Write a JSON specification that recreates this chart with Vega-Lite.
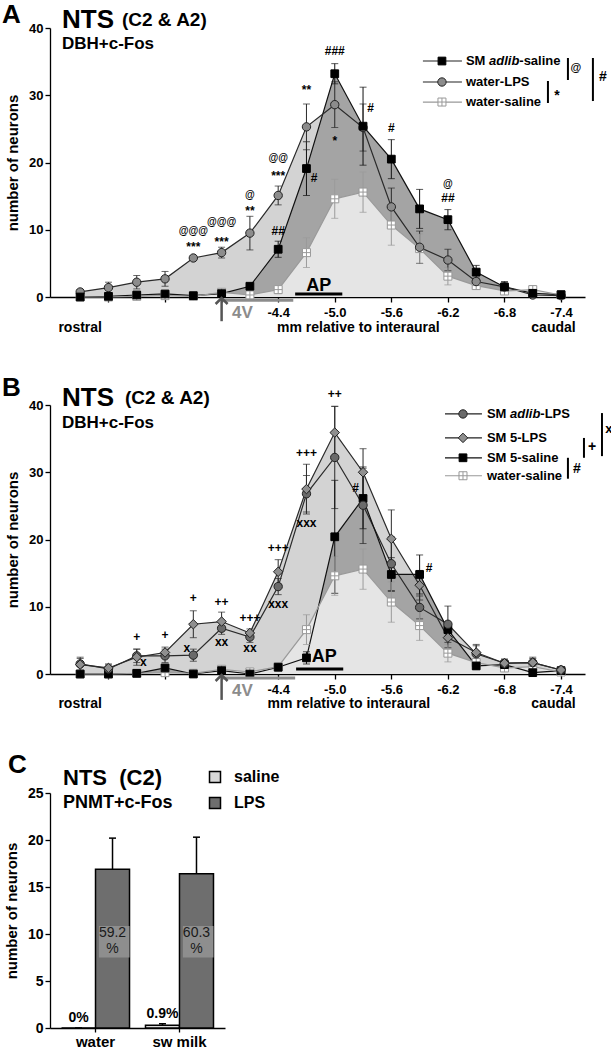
{
"$schema": "https://vega.github.io/schema/vega-lite/v6.json",
"background": "white",
"padding": {"left": 1, "top": 2, "right": 0, "bottom": 0},
"spacing": 40,
"resolve": {
  "scale": {"x": "independent", "y": "independent", "color": "independent", "fill": "independent"}
},
"config": {
  "font": "Liberation Sans",
  "view": {"stroke": null},
  "axis": {"labelFont": "Liberation Sans", "labelFontSize": 13, "labelFontWeight": "bold", "labelColor": "#000", "titleFont": "Liberation Sans", "titleFontSize": 15, "titleFontWeight": "bold", "titleColor": "#000", "domainColor": "#000", "tickColor": "#000", "domainWidth": 1.3, "tickWidth": 1.3, "grid": false},
  "legend": {"labelFont": "Liberation Sans", "labelFontWeight": "bold", "labelColor": "#000"},
  "text": {"font": "Liberation Sans", "fontWeight": "bold", "color": "#000"}
},
"datasets": {
  "one": [{"k": 1}],
  "A": [
    {"x":-2.3,"s":"SM adlib-saline","v":0,"lo":0,"hi":0.1},
    {"x":-2.6,"s":"SM adlib-saline","v":0.1,"lo":0,"hi":0.2},
    {"x":-2.9,"s":"SM adlib-saline","v":0.3,"lo":0.1,"hi":0.5},
    {"x":-3.2,"s":"SM adlib-saline","v":0.45,"lo":0.25,"hi":0.65},
    {"x":-3.5,"s":"SM adlib-saline","v":0.2,"lo":0.1,"hi":0.3},
    {"x":-3.8,"s":"SM adlib-saline","v":0.5,"lo":0.2,"hi":0.8},
    {"x":-4.1,"s":"SM adlib-saline","v":1.6,"lo":1.3,"hi":1.9},
    {"x":-4.4,"s":"SM adlib-saline","v":7.1,"lo":5.9,"hi":8.3},
    {"x":-4.7,"s":"SM adlib-saline","v":19.1,"lo":15.1,"hi":23.1},
    {"x":-5.0,"s":"SM adlib-saline","v":33.2,"lo":31.7,"hi":34.7},
    {"x":-5.3,"s":"SM adlib-saline","v":25.4,"lo":19.6,"hi":31.2},
    {"x":-5.6,"s":"SM adlib-saline","v":20.5,"lo":17.6,"hi":23.4},
    {"x":-5.9,"s":"SM adlib-saline","v":13.1,"lo":10.2,"hi":16.0},
    {"x":-6.2,"s":"SM adlib-saline","v":11.5,"lo":10.0,"hi":13.0},
    {"x":-6.5,"s":"SM adlib-saline","v":3.7,"lo":2.7,"hi":4.7},
    {"x":-6.8,"s":"SM adlib-saline","v":1.5,"lo":0.7,"hi":2.3},
    {"x":-7.1,"s":"SM adlib-saline","v":0.55,"lo":0.25,"hi":0.85},
    {"x":-7.4,"s":"SM adlib-saline","v":0.35,"lo":0.15,"hi":0.55},
    {"x":-2.3,"s":"water-LPS","v":0.75,"lo":0.45,"hi":1.05},
    {"x":-2.6,"s":"water-LPS","v":1.4,"lo":0.6,"hi":2.2},
    {"x":-2.9,"s":"water-LPS","v":2.2,"lo":1.2,"hi":3.2},
    {"x":-3.2,"s":"water-LPS","v":2.7,"lo":1.6,"hi":3.8},
    {"x":-3.5,"s":"water-LPS","v":5.8,"lo":5.5,"hi":6.1},
    {"x":-3.8,"s":"water-LPS","v":6.6,"lo":5.8,"hi":7.4},
    {"x":-4.1,"s":"water-LPS","v":9.5,"lo":7.0,"hi":12.0},
    {"x":-4.4,"s":"water-LPS","v":15.1,"lo":13.7,"hi":16.5},
    {"x":-4.7,"s":"water-LPS","v":25.3,"lo":21.9,"hi":28.7},
    {"x":-5.0,"s":"water-LPS","v":28.6,"lo":25.2,"hi":32.0},
    {"x":-5.3,"s":"water-LPS","v":25.2,"lo":21.7,"hi":28.7},
    {"x":-5.6,"s":"water-LPS","v":13.4,"lo":10.6,"hi":16.2},
    {"x":-5.9,"s":"water-LPS","v":7.4,"lo":5.0,"hi":9.8},
    {"x":-6.2,"s":"water-LPS","v":5.5,"lo":3.9,"hi":7.1},
    {"x":-6.5,"s":"water-LPS","v":2.3,"lo":1.8,"hi":2.8},
    {"x":-6.8,"s":"water-LPS","v":1.5,"lo":0.9,"hi":2.1},
    {"x":-7.1,"s":"water-LPS","v":0.3,"lo":0,"hi":0.6},
    {"x":-7.4,"s":"water-LPS","v":0.2,"lo":0,"hi":0.4},
    {"x":-2.3,"s":"water-saline","v":0,"lo":0,"hi":0.1},
    {"x":-2.6,"s":"water-saline","v":0,"lo":0,"hi":0.1},
    {"x":-2.9,"s":"water-saline","v":0.1,"lo":0,"hi":0.3},
    {"x":-3.2,"s":"water-saline","v":0.2,"lo":0,"hi":0.4},
    {"x":-3.5,"s":"water-saline","v":0.1,"lo":0,"hi":0.3},
    {"x":-3.8,"s":"water-saline","v":0.7,"lo":0.3,"hi":1.1},
    {"x":-4.1,"s":"water-saline","v":0.3,"lo":0,"hi":0.6},
    {"x":-4.4,"s":"water-saline","v":1.1,"lo":0.5,"hi":1.7},
    {"x":-4.7,"s":"water-saline","v":6.6,"lo":4.4,"hi":8.8},
    {"x":-5.0,"s":"water-saline","v":14.6,"lo":11.7,"hi":17.5},
    {"x":-5.3,"s":"water-saline","v":15.6,"lo":12.6,"hi":18.6},
    {"x":-5.6,"s":"water-saline","v":10.7,"lo":7.7,"hi":13.7},
    {"x":-5.9,"s":"water-saline","v":7.2,"lo":5.0,"hi":9.4},
    {"x":-6.2,"s":"water-saline","v":3.1,"lo":1.8,"hi":4.4},
    {"x":-6.5,"s":"water-saline","v":1.7,"lo":1.2,"hi":2.2},
    {"x":-6.8,"s":"water-saline","v":0.9,"lo":0.4,"hi":1.4},
    {"x":-7.1,"s":"water-saline","v":1.1,"lo":0.5,"hi":1.7},
    {"x":-7.4,"s":"water-saline","v":0.3,"lo":0.1,"hi":0.5}
  ],
  "B": [
    {"x":-2.3,"s":"SM adlib-LPS","v":1.5,"lo":0.5,"hi":2.5},
    {"x":-2.6,"s":"SM adlib-LPS","v":0.75,"lo":0.15,"hi":1.35},
    {"x":-2.9,"s":"SM adlib-LPS","v":2.7,"lo":1.7,"hi":3.7},
    {"x":-3.2,"s":"SM adlib-LPS","v":2.7,"lo":1.7,"hi":3.7},
    {"x":-3.5,"s":"SM adlib-LPS","v":2.8,"lo":1.9,"hi":3.7},
    {"x":-3.8,"s":"SM adlib-LPS","v":6.8,"lo":5.9,"hi":7.7},
    {"x":-4.1,"s":"SM adlib-LPS","v":5.5,"lo":4.7,"hi":6.3},
    {"x":-4.4,"s":"SM adlib-LPS","v":13.0,"lo":11.8,"hi":14.2},
    {"x":-4.7,"s":"SM adlib-LPS","v":26.8,"lo":24.1,"hi":29.5},
    {"x":-5.0,"s":"SM adlib-LPS","v":32.2,"lo":24.6,"hi":39.8},
    {"x":-5.3,"s":"SM adlib-LPS","v":25.1,"lo":19.4,"hi":30.8},
    {"x":-5.6,"s":"SM adlib-LPS","v":16.4,"lo":12.4,"hi":20.4},
    {"x":-5.9,"s":"SM adlib-LPS","v":9.9,"lo":8.2,"hi":11.6},
    {"x":-6.2,"s":"SM adlib-LPS","v":7.4,"lo":4.7,"hi":10.1},
    {"x":-6.5,"s":"SM adlib-LPS","v":3.0,"lo":1.8,"hi":4.2},
    {"x":-6.8,"s":"SM adlib-LPS","v":1.6,"lo":1.0,"hi":2.2},
    {"x":-7.1,"s":"SM adlib-LPS","v":1.7,"lo":1.1,"hi":2.3},
    {"x":-7.4,"s":"SM adlib-LPS","v":0.6,"lo":0.4,"hi":0.8},
    {"x":-2.3,"s":"SM 5-LPS","v":1.4,"lo":0.5,"hi":2.3},
    {"x":-2.6,"s":"SM 5-LPS","v":0.9,"lo":0.3,"hi":1.5},
    {"x":-2.9,"s":"SM 5-LPS","v":2.5,"lo":1.3,"hi":3.7},
    {"x":-3.2,"s":"SM 5-LPS","v":3.2,"lo":2.4,"hi":4.0},
    {"x":-3.5,"s":"SM 5-LPS","v":7.4,"lo":5.4,"hi":9.4},
    {"x":-3.8,"s":"SM 5-LPS","v":7.8,"lo":6.4,"hi":9.2},
    {"x":-4.1,"s":"SM 5-LPS","v":6.1,"lo":5.5,"hi":6.7},
    {"x":-4.4,"s":"SM 5-LPS","v":15.2,"lo":13.4,"hi":17.0},
    {"x":-4.7,"s":"SM 5-LPS","v":27.5,"lo":23.8,"hi":31.2},
    {"x":-5.0,"s":"SM 5-LPS","v":35.9,"lo":32.0,"hi":39.8},
    {"x":-5.3,"s":"SM 5-LPS","v":30.0,"lo":26.5,"hi":33.5},
    {"x":-5.6,"s":"SM 5-LPS","v":20.1,"lo":15.8,"hi":24.4},
    {"x":-5.9,"s":"SM 5-LPS","v":13.2,"lo":11.0,"hi":15.4},
    {"x":-6.2,"s":"SM 5-LPS","v":5.4,"lo":3.9,"hi":6.9},
    {"x":-6.5,"s":"SM 5-LPS","v":3.2,"lo":2.0,"hi":4.4},
    {"x":-6.8,"s":"SM 5-LPS","v":1.6,"lo":1.0,"hi":2.2},
    {"x":-7.1,"s":"SM 5-LPS","v":1.7,"lo":0.9,"hi":2.5},
    {"x":-7.4,"s":"SM 5-LPS","v":0.6,"lo":0.4,"hi":0.8},
    {"x":-2.3,"s":"SM 5-saline","v":0,"lo":0,"hi":0.1},
    {"x":-2.6,"s":"SM 5-saline","v":0,"lo":0,"hi":0.1},
    {"x":-2.9,"s":"SM 5-saline","v":0.1,"lo":0,"hi":0.3},
    {"x":-3.2,"s":"SM 5-saline","v":0.9,"lo":0.6,"hi":1.2},
    {"x":-3.5,"s":"SM 5-saline","v":0,"lo":0,"hi":0.1},
    {"x":-3.8,"s":"SM 5-saline","v":0.5,"lo":0.2,"hi":0.8},
    {"x":-4.1,"s":"SM 5-saline","v":0,"lo":0,"hi":0.2},
    {"x":-4.4,"s":"SM 5-saline","v":1.0,"lo":0.6,"hi":1.4},
    {"x":-4.7,"s":"SM 5-saline","v":2.4,"lo":1.5,"hi":3.3},
    {"x":-5.0,"s":"SM 5-saline","v":20.4,"lo":12.0,"hi":28.8},
    {"x":-5.3,"s":"SM 5-saline","v":26.1,"lo":21.6,"hi":30.6},
    {"x":-5.6,"s":"SM 5-saline","v":14.8,"lo":12.3,"hi":17.3},
    {"x":-5.9,"s":"SM 5-saline","v":14.8,"lo":11.9,"hi":17.7},
    {"x":-6.2,"s":"SM 5-saline","v":6.6,"lo":5.6,"hi":7.6},
    {"x":-6.5,"s":"SM 5-saline","v":1.2,"lo":0.7,"hi":1.7},
    {"x":-6.8,"s":"SM 5-saline","v":1.4,"lo":0.9,"hi":1.9},
    {"x":-7.1,"s":"SM 5-saline","v":0.2,"lo":0,"hi":0.4},
    {"x":-7.4,"s":"SM 5-saline","v":0.5,"lo":0.3,"hi":0.7},
    {"x":-2.3,"s":"water-saline","v":0,"lo":0,"hi":0.1},
    {"x":-2.6,"s":"water-saline","v":0,"lo":0,"hi":0.1},
    {"x":-2.9,"s":"water-saline","v":0.1,"lo":0,"hi":0.3},
    {"x":-3.2,"s":"water-saline","v":0.2,"lo":0,"hi":0.4},
    {"x":-3.5,"s":"water-saline","v":0.1,"lo":0,"hi":0.3},
    {"x":-3.8,"s":"water-saline","v":0.7,"lo":0.3,"hi":1.1},
    {"x":-4.1,"s":"water-saline","v":0.3,"lo":0,"hi":0.6},
    {"x":-4.4,"s":"water-saline","v":1.1,"lo":0.5,"hi":1.7},
    {"x":-4.7,"s":"water-saline","v":6.6,"lo":4.4,"hi":8.8},
    {"x":-5.0,"s":"water-saline","v":14.6,"lo":11.7,"hi":17.5},
    {"x":-5.3,"s":"water-saline","v":15.6,"lo":12.6,"hi":18.6},
    {"x":-5.6,"s":"water-saline","v":10.7,"lo":7.7,"hi":13.7},
    {"x":-5.9,"s":"water-saline","v":7.2,"lo":5.0,"hi":9.4},
    {"x":-6.2,"s":"water-saline","v":3.1,"lo":1.8,"hi":4.4},
    {"x":-6.5,"s":"water-saline","v":1.7,"lo":1.2,"hi":2.2},
    {"x":-6.8,"s":"water-saline","v":0.9,"lo":0.4,"hi":1.4},
    {"x":-7.1,"s":"water-saline","v":1.1,"lo":0.5,"hi":1.7},
    {"x":-7.4,"s":"water-saline","v":0.3,"lo":0.1,"hi":0.5}
  ],
  "annA": [
    {"x":-3.5,"y":9.8,"t":"@@@"},{"x":-3.5,"y":7.5,"t":"***"},
    {"x":-3.8,"y":11.1,"t":"@@@"},{"x":-3.8,"y":8.2,"t":"***"},
    {"x":-4.1,"y":15.2,"t":"@"},{"x":-4.1,"y":12.8,"t":"**"},
    {"x":-4.4,"y":20.7,"t":"@@"},{"x":-4.4,"y":18.0,"t":"***"},{"x":-4.4,"y":9.8,"t":"##"},
    {"x":-4.7,"y":30.8,"t":"**"},{"x":-4.78,"y":17.7,"t":"#"},
    {"x":-5.0,"y":36.6,"t":"###"},{"x":-5.0,"y":23.2,"t":"*"},
    {"x":-5.38,"y":28.1,"t":"#"},{"x":-5.6,"y":25.1,"t":"#"},
    {"x":-6.2,"y":16.8,"t":"@"},{"x":-6.2,"y":14.7,"t":"##"}
  ],
  "annB": [
    {"x":-2.9,"y":5.5,"t":"+"},{"x":-2.97,"y":1.8,"t":"x"},
    {"x":-3.2,"y":5.8,"t":"+"},
    {"x":-3.5,"y":11.3,"t":"+"},{"x":-3.43,"y":3.9,"t":"x"},
    {"x":-3.8,"y":10.7,"t":"++"},{"x":-3.8,"y":4.7,"t":"xx"},
    {"x":-4.1,"y":8.3,"t":"+++"},{"x":-4.1,"y":3.9,"t":"xx"},
    {"x":-4.4,"y":18.7,"t":"+++"},{"x":-4.4,"y":10.4,"t":"xxx"},
    {"x":-4.7,"y":32.9,"t":"+++"},{"x":-4.7,"y":22.5,"t":"xxx"},
    {"x":-5.0,"y":41.6,"t":"++"},
    {"x":-5.22,"y":27.7,"t":"#"},{"x":-6.0,"y":15.7,"t":"#"}
  ],
  "C": [
    {"g":"water","t":"saline","v":0,"hi":0,"pct":"","lab":"0%"},
    {"g":"water","t":"LPS","v":16.9,"hi":20.2,"pct":"59.2","lab":""},
    {"g":"sw milk","t":"saline","v":0.3,"hi":0.45,"pct":"","lab":"0.9%"},
    {"g":"sw milk","t":"LPS","v":16.4,"hi":20.3,"pct":"60.3","lab":""}
  ]
},
"vconcat": [
{
  "width": 535, "height": 269,
  "data": {"name": "A"},
  "layer": [
    {"transform": [{"filter": "datum.s == 'water-LPS'"}], "mark": {"type": "area", "color": "#d3d3d3", "opacity": 1},
     "encoding": {
       "x": {"field": "x", "type": "quantitative", "scale": {"domain": [-7.654, -1.98], "reverse": true, "nice": false, "zero": false},
             "axis": {"title": null, "values": [-2.3,-2.6,-2.9,-3.2,-3.5,-3.8,-4.1,-4.4,-4.7,-5.0,-5.3,-5.6,-5.9,-6.2,-6.5,-6.8,-7.1,-7.4], "labelExpr": "indexof(['2.3','2.9','3.5','4.4','5.0','5.6','6.2','6.8','7.4'], format(-datum.value, '.1f')) >= 0 ? '-' + format(-datum.value, '.1f') : ''", "tickSize": 5, "labelOverlap": false, "labelFlush": false, "labelPadding": 4}},
       "y": {"field": "v", "type": "quantitative", "stack": null, "title": "number of neurons", "scale": {"domain": [0, 40], "nice": false, "zero": false},
             "axis": {"values": [0,10,20,30,40], "tickSize": 5, "titlePadding": 8, "labelPadding": 2}}}},
    {"transform": [{"filter": "datum.s == 'SM adlib-saline'"}], "mark": {"type": "area", "color": "#a4a4a4", "opacity": 1},
     "encoding": {"x": {"field": "x", "type": "quantitative", "scale": {"domain": [-7.654, -1.98], "reverse": true, "nice": false, "zero": false}},
                  "y": {"field": "v", "type": "quantitative", "stack": null, "title": "number of neurons", "scale": {"domain": [0, 40], "nice": false, "zero": false}}}},
    {"transform": [{"filter": "datum.s == 'water-saline'"}], "mark": {"type": "area", "color": "#e5e5e5", "opacity": 1},
     "encoding": {"x": {"field": "x", "type": "quantitative", "scale": {"domain": [-7.654, -1.98], "reverse": true, "nice": false, "zero": false}},
                  "y": {"field": "v", "type": "quantitative", "stack": null, "title": "number of neurons", "scale": {"domain": [0, 40], "nice": false, "zero": false}}}},
    {"mark": {"type": "line", "strokeWidth": 1.2},
     "encoding": {"x": {"field": "x", "type": "quantitative", "scale": {"domain": [-7.654, -1.98], "reverse": true, "nice": false, "zero": false}},
                  "y": {"field": "v", "type": "quantitative", "stack": null, "title": "number of neurons", "scale": {"domain": [0, 40], "nice": false, "zero": false}},
                  "color": {"field": "s", "type": "nominal", "scale": {"domain": ["SM adlib-saline","water-LPS","water-saline"], "range": ["#111111","#2a2a2a","#9a9a9a"]}, "legend": null}}},
    {"mark": {"type": "errorbar", "ticks": {"size": 7}, "thickness": 1},
     "encoding": {"x": {"field": "x", "type": "quantitative", "scale": {"domain": [-7.654, -1.98], "reverse": true, "nice": false, "zero": false}},
                  "y": {"field": "lo", "type": "quantitative", "title": "number of neurons", "scale": {"domain": [0, 40], "nice": false, "zero": false}},
                  "y2": {"field": "hi"},
                  "color": {"field": "s", "type": "nominal", "scale": {"domain": ["SM adlib-saline","water-LPS","water-saline"], "range": ["#111111","#2a2a2a","#9a9a9a"]}, "legend": null}}},
    {"transform": [{"filter": "datum.s == 'water-saline'"}], "mark": {"type": "point", "shape": "M-1,-1H1V1H-1ZM0,-1V1M-1,0H1", "size": 64, "filled": true, "fill": "#ffffff", "stroke": "#999999", "strokeWidth": 1, "opacity": 1},
     "encoding": {"x": {"field": "x", "type": "quantitative", "scale": {"domain": [-7.654, -1.98], "reverse": true, "nice": false, "zero": false}},
                  "y": {"field": "v", "type": "quantitative", "title": "number of neurons", "scale": {"domain": [0, 40], "nice": false, "zero": false}}}},
    {"transform": [{"filter": "datum.s == 'water-LPS'"}], "mark": {"type": "point", "shape": "circle", "size": 70, "filled": true, "fill": "#8c8c8c", "stroke": "#222222", "strokeWidth": 1, "opacity": 1},
     "encoding": {"x": {"field": "x", "type": "quantitative", "scale": {"domain": [-7.654, -1.98], "reverse": true, "nice": false, "zero": false}},
                  "y": {"field": "v", "type": "quantitative", "title": "number of neurons", "scale": {"domain": [0, 40], "nice": false, "zero": false}}}},
    {"transform": [{"filter": "datum.s == 'SM adlib-saline'"}], "mark": {"type": "point", "shape": "square", "size": 60, "filled": true, "fill": "#000000", "stroke": "#000000", "strokeWidth": 1, "opacity": 1},
     "encoding": {"x": {"field": "x", "type": "quantitative", "scale": {"domain": [-7.654, -1.98], "reverse": true, "nice": false, "zero": false}},
                  "y": {"field": "v", "type": "quantitative", "title": "number of neurons", "scale": {"domain": [0, 40], "nice": false, "zero": false}}}},
    {"data": {"name": "annA"}, "transform": [{"filter": "indexof(datum.t, '@') < 0"}], "mark": {"type": "text", "fontSize": 12, "baseline": "middle", "align": "center"},
     "encoding": {"x": {"field": "x", "type": "quantitative", "scale": {"domain": [-7.654, -1.98], "reverse": true, "nice": false, "zero": false}},
                  "y": {"field": "y", "type": "quantitative", "title": "number of neurons", "scale": {"domain": [0, 40], "nice": false, "zero": false}},
                  "text": {"field": "t"}}},
    {"data": {"name": "annA"}, "transform": [{"filter": "indexof(datum.t, '@') >= 0"}], "mark": {"type": "text", "fontSize": 10, "baseline": "middle", "align": "center"},
     "encoding": {"x": {"field": "x", "type": "quantitative", "scale": {"domain": [-7.654, -1.98], "reverse": true, "nice": false, "zero": false}},
                  "y": {"field": "y", "type": "quantitative", "title": "number of neurons", "scale": {"domain": [0, 40], "nice": false, "zero": false}},
                  "text": {"field": "t"}}},
    {"data": {"name": "one"}, "mark": {"type": "rule", "color": "#222222", "strokeWidth": 1.2}, "encoding": {"x": {"datum": -5.935}, "x2": {"datum": -6.349}, "y": {"datum": 35.09}}},
    {"data": {"name": "one"}, "mark": {"type": "rule", "color": "#222222", "strokeWidth": 1.2}, "encoding": {"x": {"datum": -5.935}, "x2": {"datum": -6.349}, "y": {"datum": 31.97}}},
    {"data": {"name": "one"}, "mark": {"type": "rule", "color": "#999999", "strokeWidth": 1.2}, "encoding": {"x": {"datum": -5.935}, "x2": {"datum": -6.349}, "y": {"datum": 28.99}}},
    {"data": {"name": "one"}, "mark": {"type": "point", "shape": "square", "size": 60, "filled": true, "fill": "#000000", "stroke": "#000000", "strokeWidth": 1, "opacity": 1}, "encoding": {"x": {"datum": -6.137}, "y": {"datum": 35.09}}},
    {"data": {"name": "one"}, "mark": {"type": "point", "shape": "circle", "size": 70, "filled": true, "fill": "#8c8c8c", "stroke": "#222222", "strokeWidth": 1, "opacity": 1}, "encoding": {"x": {"datum": -6.137}, "y": {"datum": 31.97}}},
    {"data": {"name": "one"}, "mark": {"type": "point", "shape": "M-1,-1H1V1H-1ZM0,-1V1M-1,0H1", "size": 64, "filled": true, "fill": "#ffffff", "stroke": "#999999", "strokeWidth": 1, "opacity": 1}, "encoding": {"x": {"datum": -6.137}, "y": {"datum": 28.99}}},
    {"data": {"name": "one"}, "mark": {"type": "text", "fontSize": 13, "align": "left", "baseline": "middle", "text": "SM"}, "encoding": {"x": {"datum": -6.391}, "y": {"datum": 35.09}}},
    {"data": {"name": "one"}, "mark": {"type": "text", "fontSize": 13, "align": "left", "baseline": "middle", "fontStyle": "italic", "dx": 23.1, "text": "adlib"}, "encoding": {"x": {"datum": -6.391}, "y": {"datum": 35.09}}},
    {"data": {"name": "one"}, "mark": {"type": "text", "fontSize": 13, "align": "left", "baseline": "middle", "dx": 53.4, "text": "-saline"}, "encoding": {"x": {"datum": -6.391}, "y": {"datum": 35.09}}},
    {"data": {"name": "one"}, "mark": {"type": "text", "fontSize": 13, "align": "left", "baseline": "middle", "text": "water-LPS"}, "encoding": {"x": {"datum": -6.391}, "y": {"datum": 31.97}}},
    {"data": {"name": "one"}, "mark": {"type": "text", "fontSize": 13, "align": "left", "baseline": "middle", "text": "water-saline"}, "encoding": {"x": {"datum": -6.391}, "y": {"datum": 28.99}}},
    {"data": {"name": "one"}, "mark": {"type": "text", "fontSize": 26, "align": "left", "baseline": "alphabetic", "text": "A"}, "encoding": {"x": {"datum": -1.47}, "y": {"datum": 40.74}}},
    {"data": {"name": "one"}, "mark": {"type": "text", "fontSize": 26, "align": "left", "baseline": "alphabetic", "text": "NTS"}, "encoding": {"x": {"datum": -2.107}, "y": {"datum": 40.0}}},
    {"data": {"name": "one"}, "mark": {"type": "text", "fontSize": 19, "align": "left", "baseline": "alphabetic", "text": "(C2 & A2)"}, "encoding": {"x": {"datum": -2.743}, "y": {"datum": 40.3}}},
    {"data": {"name": "one"}, "mark": {"type": "text", "fontSize": 17, "align": "left", "baseline": "alphabetic", "text": "DBH+c-Fos"}, "encoding": {"x": {"datum": -2.107}, "y": {"datum": 36.9}}},
    {"data": {"name": "one"}, "mark": {"type": "text", "fontSize": 14, "align": "center", "baseline": "middle", "text": "rostral"}, "encoding": {"x": {"datum": -2.3}, "y": {"datum": -4.6}}},
    {"data": {"name": "one"}, "mark": {"type": "text", "fontSize": 14, "align": "center", "baseline": "middle", "text": "mm relative to interaural"}, "encoding": {"x": {"datum": -5.25}, "y": {"datum": -4.6}}},
    {"data": {"name": "one"}, "mark": {"type": "text", "fontSize": 14, "align": "center", "baseline": "middle", "text": "caudal"}, "encoding": {"x": {"datum": -7.32}, "y": {"datum": -4.6}}},
    {"data": {"name": "one"}, "mark": {"type": "text", "fontSize": 17, "align": "center", "baseline": "middle", "color": "#8c8c8c", "text": "4V"}, "encoding": {"x": {"datum": -4.02}, "y": {"datum": -2.4}}},
    {"data": {"name": "one"}, "mark": {"type": "rule", "color": "#8c8c8c", "strokeWidth": 3}, "encoding": {"x": {"datum": -3.8}, "x2": {"datum": -4.56}, "y": {"datum": -0.5}}},
    {"data": {"name": "one"}, "mark": {"type": "rule", "color": "#555555", "strokeWidth": 2.5}, "encoding": {"x": {"datum": -3.8}, "y": {"datum": -3.6}, "y2": {"datum": -0.2}}},
    {"data": {"name": "one"}, "mark": {"type": "point", "shape": "M-1,1L0,0L1,1", "size": 144, "filled": false, "stroke": "#555555", "strokeWidth": 2.5, "opacity": 1}, "encoding": {"x": {"datum": -3.8}, "y": {"datum": -0.15}}},
    {"data": {"name": "one"}, "mark": {"type": "rule", "color": "#000000", "strokeWidth": 3}, "encoding": {"x": {"datum": -4.58}, "x2": {"datum": -5.08}, "y": {"datum": 0.45}}},
    {"data": {"name": "one"}, "mark": {"type": "text", "fontSize": 18, "align": "center", "baseline": "alphabetic", "text": "AP"}, "encoding": {"x": {"datum": -4.83}, "y": {"datum": 0.9}}},
    {"data": {"name": "one"}, "mark": {"type": "rule", "color": "#000000", "strokeWidth": 2}, "encoding": {"x": {"datum": -7.473}, "y": {"datum": 35.54}, "y2": {"datum": 32.27}}},
    {"data": {"name": "one"}, "mark": {"type": "text", "fontSize": 11, "align": "center", "baseline": "middle", "text": "@"}, "encoding": {"x": {"datum": -7.558}, "y": {"datum": 34.05}}},
    {"data": {"name": "one"}, "mark": {"type": "rule", "color": "#000000", "strokeWidth": 2}, "encoding": {"x": {"datum": -7.261}, "y": {"datum": 32.12}, "y2": {"datum": 28.85}}},
    {"data": {"name": "one"}, "mark": {"type": "text", "fontSize": 14, "align": "center", "baseline": "middle", "text": "*"}, "encoding": {"x": {"datum": -7.356}, "y": {"datum": 29.9}}},
    {"data": {"name": "one"}, "mark": {"type": "rule", "color": "#000000", "strokeWidth": 2}, "encoding": {"x": {"datum": -7.738}, "y": {"datum": 35.54}, "y2": {"datum": 29.14}}},
    {"data": {"name": "one"}, "mark": {"type": "text", "fontSize": 14, "align": "center", "baseline": "middle", "text": "#"}, "encoding": {"x": {"datum": -7.844}, "y": {"datum": 32.71}}}
  ]
},
{
  "width": 535, "height": 269,
  "data": {"name": "B"},
  "layer": [
    {"transform": [{"filter": "datum.s == 'SM 5-LPS' || datum.s == 'SM adlib-LPS'"}], "mark": {"type": "area", "color": "#d3d3d3", "opacity": 1},
     "encoding": {
       "x": {"field": "x", "type": "quantitative", "scale": {"domain": [-7.654, -1.98], "reverse": true, "nice": false, "zero": false},
             "axis": {"title": null, "values": [-2.3,-2.6,-2.9,-3.2,-3.5,-3.8,-4.1,-4.4,-4.7,-5.0,-5.3,-5.6,-5.9,-6.2,-6.5,-6.8,-7.1,-7.4], "labelExpr": "indexof(['2.3','2.9','3.5','4.4','5.0','5.6','6.2','6.8','7.4'], format(-datum.value, '.1f')) >= 0 ? '-' + format(-datum.value, '.1f') : ''", "tickSize": 5, "labelOverlap": false, "labelFlush": false, "labelPadding": 4}},
       "y": {"field": "v", "type": "quantitative", "stack": null, "title": "number of neurons", "scale": {"domain": [0, 40], "nice": false, "zero": false},
             "axis": {"values": [0,10,20,30,40], "tickSize": 5, "titlePadding": 8, "labelPadding": 2}},
       "detail": {"field": "s"}}},
    {"transform": [{"filter": "datum.s == 'SM 5-saline'"}], "mark": {"type": "area", "color": "#a4a4a4", "opacity": 1},
     "encoding": {"x": {"field": "x", "type": "quantitative", "scale": {"domain": [-7.654, -1.98], "reverse": true, "nice": false, "zero": false}},
                  "y": {"field": "v", "type": "quantitative", "stack": null, "title": "number of neurons", "scale": {"domain": [0, 40], "nice": false, "zero": false}}}},
    {"transform": [{"filter": "datum.s == 'water-saline'"}], "mark": {"type": "area", "color": "#e5e5e5", "opacity": 1},
     "encoding": {"x": {"field": "x", "type": "quantitative", "scale": {"domain": [-7.654, -1.98], "reverse": true, "nice": false, "zero": false}},
                  "y": {"field": "v", "type": "quantitative", "stack": null, "title": "number of neurons", "scale": {"domain": [0, 40], "nice": false, "zero": false}}}},
    {"mark": {"type": "line", "strokeWidth": 1.2},
     "encoding": {"x": {"field": "x", "type": "quantitative", "scale": {"domain": [-7.654, -1.98], "reverse": true, "nice": false, "zero": false}},
                  "y": {"field": "v", "type": "quantitative", "stack": null, "title": "number of neurons", "scale": {"domain": [0, 40], "nice": false, "zero": false}},
                  "color": {"field": "s", "type": "nominal", "scale": {"domain": ["SM adlib-LPS","SM 5-LPS","SM 5-saline","water-saline"], "range": ["#2a2a2a","#2a2a2a","#111111","#9a9a9a"]}, "legend": null}}},
    {"mark": {"type": "errorbar", "ticks": {"size": 7}, "thickness": 1},
     "encoding": {"x": {"field": "x", "type": "quantitative", "scale": {"domain": [-7.654, -1.98], "reverse": true, "nice": false, "zero": false}},
                  "y": {"field": "lo", "type": "quantitative", "title": "number of neurons", "scale": {"domain": [0, 40], "nice": false, "zero": false}},
                  "y2": {"field": "hi"},
                  "color": {"field": "s", "type": "nominal", "scale": {"domain": ["SM adlib-LPS","SM 5-LPS","SM 5-saline","water-saline"], "range": ["#2a2a2a","#2a2a2a","#111111","#9a9a9a"]}, "legend": null}}},
    {"transform": [{"filter": "datum.s == 'water-saline'"}], "mark": {"type": "point", "shape": "M-1,-1H1V1H-1ZM0,-1V1M-1,0H1", "size": 64, "filled": true, "fill": "#ffffff", "stroke": "#999999", "strokeWidth": 1, "opacity": 1},
     "encoding": {"x": {"field": "x", "type": "quantitative", "scale": {"domain": [-7.654, -1.98], "reverse": true, "nice": false, "zero": false}},
                  "y": {"field": "v", "type": "quantitative", "title": "number of neurons", "scale": {"domain": [0, 40], "nice": false, "zero": false}}}},
    {"transform": [{"filter": "datum.s == 'SM 5-saline'"}], "mark": {"type": "point", "shape": "square", "size": 60, "filled": true, "fill": "#000000", "stroke": "#000000", "strokeWidth": 1, "opacity": 1},
     "encoding": {"x": {"field": "x", "type": "quantitative", "scale": {"domain": [-7.654, -1.98], "reverse": true, "nice": false, "zero": false}},
                  "y": {"field": "v", "type": "quantitative", "title": "number of neurons", "scale": {"domain": [0, 40], "nice": false, "zero": false}}}},
    {"transform": [{"filter": "datum.s == 'SM adlib-LPS'"}], "mark": {"type": "point", "shape": "circle", "size": 70, "filled": true, "fill": "#6a6a6a", "stroke": "#222222", "strokeWidth": 1, "opacity": 1},
     "encoding": {"x": {"field": "x", "type": "quantitative", "scale": {"domain": [-7.654, -1.98], "reverse": true, "nice": false, "zero": false}},
                  "y": {"field": "v", "type": "quantitative", "title": "number of neurons", "scale": {"domain": [0, 40], "nice": false, "zero": false}}}},
    {"transform": [{"filter": "datum.s == 'SM 5-LPS'"}], "mark": {"type": "point", "shape": "diamond", "size": 90, "filled": true, "fill": "#8f8f8f", "stroke": "#222222", "strokeWidth": 1, "opacity": 1},
     "encoding": {"x": {"field": "x", "type": "quantitative", "scale": {"domain": [-7.654, -1.98], "reverse": true, "nice": false, "zero": false}},
                  "y": {"field": "v", "type": "quantitative", "title": "number of neurons", "scale": {"domain": [0, 40], "nice": false, "zero": false}}}},
    {"data": {"name": "annB"}, "mark": {"type": "text", "fontSize": 12, "baseline": "middle", "align": "center"},
     "encoding": {"x": {"field": "x", "type": "quantitative", "scale": {"domain": [-7.654, -1.98], "reverse": true, "nice": false, "zero": false}},
                  "y": {"field": "y", "type": "quantitative", "title": "number of neurons", "scale": {"domain": [0, 40], "nice": false, "zero": false}},
                  "text": {"field": "t"}}},
    {"data": {"name": "one"}, "mark": {"type": "rule", "color": "#222222", "strokeWidth": 1.2}, "encoding": {"x": {"datum": -6.169}, "x2": {"datum": -6.561}, "y": {"datum": 38.67}}},
    {"data": {"name": "one"}, "mark": {"type": "rule", "color": "#222222", "strokeWidth": 1.2}, "encoding": {"x": {"datum": -6.169}, "x2": {"datum": -6.561}, "y": {"datum": 35.11}}},
    {"data": {"name": "one"}, "mark": {"type": "rule", "color": "#111111", "strokeWidth": 1.2}, "encoding": {"x": {"datum": -6.169}, "x2": {"datum": -6.561}, "y": {"datum": 32.15}}},
    {"data": {"name": "one"}, "mark": {"type": "rule", "color": "#999999", "strokeWidth": 1.2}, "encoding": {"x": {"datum": -6.169}, "x2": {"datum": -6.561}, "y": {"datum": 29.48}}},
    {"data": {"name": "one"}, "mark": {"type": "point", "shape": "circle", "size": 70, "filled": true, "fill": "#6a6a6a", "stroke": "#222222", "strokeWidth": 1, "opacity": 1}, "encoding": {"x": {"datum": -6.36}, "y": {"datum": 38.67}}},
    {"data": {"name": "one"}, "mark": {"type": "point", "shape": "diamond", "size": 90, "filled": true, "fill": "#8f8f8f", "stroke": "#222222", "strokeWidth": 1, "opacity": 1}, "encoding": {"x": {"datum": -6.36}, "y": {"datum": 35.11}}},
    {"data": {"name": "one"}, "mark": {"type": "point", "shape": "square", "size": 60, "filled": true, "fill": "#000000", "stroke": "#000000", "strokeWidth": 1, "opacity": 1}, "encoding": {"x": {"datum": -6.36}, "y": {"datum": 32.15}}},
    {"data": {"name": "one"}, "mark": {"type": "point", "shape": "M-1,-1H1V1H-1ZM0,-1V1M-1,0H1", "size": 64, "filled": true, "fill": "#ffffff", "stroke": "#999999", "strokeWidth": 1, "opacity": 1}, "encoding": {"x": {"datum": -6.36}, "y": {"datum": 29.48}}},
    {"data": {"name": "one"}, "mark": {"type": "text", "fontSize": 13, "align": "left", "baseline": "middle", "text": "SM"}, "encoding": {"x": {"datum": -6.614}, "y": {"datum": 38.67}}},
    {"data": {"name": "one"}, "mark": {"type": "text", "fontSize": 13, "align": "left", "baseline": "middle", "fontStyle": "italic", "dx": 23.1, "text": "adlib"}, "encoding": {"x": {"datum": -6.614}, "y": {"datum": 38.67}}},
    {"data": {"name": "one"}, "mark": {"type": "text", "fontSize": 13, "align": "left", "baseline": "middle", "dx": 53.4, "text": "-LPS"}, "encoding": {"x": {"datum": -6.614}, "y": {"datum": 38.67}}},
    {"data": {"name": "one"}, "mark": {"type": "text", "fontSize": 13, "align": "left", "baseline": "middle", "text": "SM 5-LPS"}, "encoding": {"x": {"datum": -6.614}, "y": {"datum": 35.11}}},
    {"data": {"name": "one"}, "mark": {"type": "text", "fontSize": 13, "align": "left", "baseline": "middle", "text": "SM 5-saline"}, "encoding": {"x": {"datum": -6.614}, "y": {"datum": 32.15}}},
    {"data": {"name": "one"}, "mark": {"type": "text", "fontSize": 13, "align": "left", "baseline": "middle", "text": "water-saline"}, "encoding": {"x": {"datum": -6.614}, "y": {"datum": 29.48}}},
    {"data": {"name": "one"}, "mark": {"type": "text", "fontSize": 26, "align": "left", "baseline": "alphabetic", "text": "B"}, "encoding": {"x": {"datum": -1.47}, "y": {"datum": 41.3}}},
    {"data": {"name": "one"}, "mark": {"type": "text", "fontSize": 26, "align": "left", "baseline": "alphabetic", "text": "NTS"}, "encoding": {"x": {"datum": -2.107}, "y": {"datum": 39.85}}},
    {"data": {"name": "one"}, "mark": {"type": "text", "fontSize": 19, "align": "left", "baseline": "alphabetic", "text": "(C2 & A2)"}, "encoding": {"x": {"datum": -2.775}, "y": {"datum": 40.15}}},
    {"data": {"name": "one"}, "mark": {"type": "text", "fontSize": 17, "align": "left", "baseline": "alphabetic", "text": "DBH+c-Fos"}, "encoding": {"x": {"datum": -2.107}, "y": {"datum": 36.6}}},
    {"data": {"name": "one"}, "mark": {"type": "text", "fontSize": 14, "align": "center", "baseline": "middle", "text": "rostral"}, "encoding": {"x": {"datum": -2.3}, "y": {"datum": -4.4}}},
    {"data": {"name": "one"}, "mark": {"type": "text", "fontSize": 14, "align": "center", "baseline": "middle", "text": "mm relative to interaural"}, "encoding": {"x": {"datum": -5.15}, "y": {"datum": -4.4}}},
    {"data": {"name": "one"}, "mark": {"type": "text", "fontSize": 14, "align": "center", "baseline": "middle", "text": "caudal"}, "encoding": {"x": {"datum": -7.32}, "y": {"datum": -4.4}}},
    {"data": {"name": "one"}, "mark": {"type": "text", "fontSize": 17, "align": "center", "baseline": "middle", "color": "#8c8c8c", "text": "4V"}, "encoding": {"x": {"datum": -4.02}, "y": {"datum": -2.6}}},
    {"data": {"name": "one"}, "mark": {"type": "rule", "color": "#8c8c8c", "strokeWidth": 3}, "encoding": {"x": {"datum": -3.8}, "x2": {"datum": -4.58}, "y": {"datum": -0.6}}},
    {"data": {"name": "one"}, "mark": {"type": "rule", "color": "#555555", "strokeWidth": 2.5}, "encoding": {"x": {"datum": -3.8}, "y": {"datum": -3.85}, "y2": {"datum": -0.2}}},
    {"data": {"name": "one"}, "mark": {"type": "point", "shape": "M-1,1L0,0L1,1", "size": 144, "filled": false, "stroke": "#555555", "strokeWidth": 2.5, "opacity": 1}, "encoding": {"x": {"datum": -3.8}, "y": {"datum": -0.15}}},
    {"data": {"name": "one"}, "mark": {"type": "rule", "color": "#000000", "strokeWidth": 3}, "encoding": {"x": {"datum": -4.59}, "x2": {"datum": -5.09}, "y": {"datum": 0.75}}},
    {"data": {"name": "one"}, "mark": {"type": "text", "fontSize": 18, "align": "left", "baseline": "alphabetic", "text": "AP"}, "encoding": {"x": {"datum": -4.755}, "y": {"datum": 1.8}}},
    {"data": {"name": "one"}, "mark": {"type": "rule", "color": "#000000", "strokeWidth": 2}, "encoding": {"x": {"datum": -7.473}, "y": {"datum": 32.15}, "y2": {"datum": 29.04}}},
    {"data": {"name": "one"}, "mark": {"type": "text", "fontSize": 14, "align": "center", "baseline": "middle", "text": "#"}, "encoding": {"x": {"datum": -7.568}, "y": {"datum": 30.5}}},
    {"data": {"name": "one"}, "mark": {"type": "rule", "color": "#000000", "strokeWidth": 2}, "encoding": {"x": {"datum": -7.643}, "y": {"datum": 35.1}, "y2": {"datum": 32.15}}},
    {"data": {"name": "one"}, "mark": {"type": "text", "fontSize": 14, "align": "center", "baseline": "middle", "text": "+"}, "encoding": {"x": {"datum": -7.728}, "y": {"datum": 33.8}}},
    {"data": {"name": "one"}, "mark": {"type": "rule", "color": "#000000", "strokeWidth": 2}, "encoding": {"x": {"datum": -7.834}, "y": {"datum": 38.8}, "y2": {"datum": 32.4}}},
    {"data": {"name": "one"}, "mark": {"type": "text", "fontSize": 13, "align": "center", "baseline": "middle", "text": "x"}, "encoding": {"x": {"datum": -7.908}, "y": {"datum": 36.4}}}
  ]
},
{
  "width": 175, "height": 235,
  "data": {"name": "C"},
  "layer": [
    {"mark": {"type": "bar", "stroke": "#000000", "strokeWidth": 1.5, "opacity": 1},
     "encoding": {
       "x": {"field": "g", "type": "nominal", "sort": ["water", "sw milk"], "scale": {"domain": ["water", "sw milk"], "paddingInner": 0.19, "paddingOuter": 0.137},
             "axis": {"title": null, "labelAngle": 0, "labelFontSize": 15, "tickSize": 4, "labelPadding": 2}},
       "xOffset": {"field": "t", "type": "nominal", "scale": {"domain": ["saline", "LPS"], "paddingInner": 0, "paddingOuter": 0}},
       "y": {"field": "v", "type": "quantitative", "title": "number of neurons", "scale": {"domain": [0, 25], "nice": false, "zero": true},
             "axis": {"values": [0,5,10,15,20,25], "tickSize": 5, "titlePadding": 8, "labelPadding": 2, "labelFontSize": 14}},
       "fill": {"field": "t", "type": "nominal", "scale": {"domain": ["saline", "LPS"], "range": ["#d9d9d9", "#6e6e6e"]},
                "legend": {"title": null, "orient": "none", "legendX": 157, "legendY": -24, "padding": 0, "symbolType": "square", "symbolSize": 121, "symbolStrokeColor": "#000000", "symbolStrokeWidth": 1.5, "labelFontSize": 16, "rowPadding": 8, "labelOffset": 11}}}},
    {"transform": [{"filter": "datum.t == 'LPS'"}], "mark": {"type": "bar", "color": "#8e8e8e", "width": {"band": 0.9}},
     "encoding": {"x": {"field": "g", "type": "nominal"}, "xOffset": {"field": "t", "type": "nominal"}, "y": {"datum": 7.5}, "y2": {"datum": 10.85}}},
    {"mark": {"type": "rule", "color": "#000000", "strokeWidth": 1.5},
     "encoding": {"x": {"field": "g", "type": "nominal"}, "xOffset": {"field": "t", "type": "nominal"}, "y": {"field": "v", "type": "quantitative", "title": "number of neurons"}, "y2": {"field": "hi"}}},
    {"mark": {"type": "tick", "orient": "horizontal", "size": 7, "thickness": 1.5, "color": "#000000", "opacity": 1},
     "encoding": {"x": {"field": "g", "type": "nominal"}, "xOffset": {"field": "t", "type": "nominal"}, "y": {"field": "hi", "type": "quantitative", "title": "number of neurons"}}},
    {"transform": [{"filter": "datum.t == 'LPS'"}], "mark": {"type": "text", "fontSize": 14, "fontWeight": "normal", "color": "#1a1a1a", "baseline": "middle"},
     "encoding": {"x": {"field": "g", "type": "nominal"}, "xOffset": {"field": "t", "type": "nominal"}, "y": {"datum": 10.08}, "text": {"field": "pct"}}},
    {"transform": [{"filter": "datum.t == 'LPS'"}], "mark": {"type": "text", "fontSize": 14, "fontWeight": "normal", "color": "#1a1a1a", "baseline": "middle", "text": "%"},
     "encoding": {"x": {"field": "g", "type": "nominal"}, "xOffset": {"field": "t", "type": "nominal"}, "y": {"datum": 8.38}}},
    {"transform": [{"filter": "datum.t == 'saline'"}], "mark": {"type": "text", "fontSize": 14, "baseline": "alphabetic", "dy": -6},
     "encoding": {"x": {"field": "g", "type": "nominal"}, "xOffset": {"field": "t", "type": "nominal"}, "y": {"field": "hi", "type": "quantitative", "title": "number of neurons"}, "text": {"field": "lab"}}},
    {"data": {"name": "one"}, "mark": {"type": "text", "fontSize": 26, "align": "left", "baseline": "alphabetic", "dx": -87.5, "text": "C"}, "encoding": {"x": {"datum": "water"}, "y": {"datum": 27.13}}},
    {"data": {"name": "one"}, "mark": {"type": "text", "fontSize": 22, "align": "left", "baseline": "alphabetic", "dx": -32.5, "text": "NTS \u00a0(C2)"}, "encoding": {"x": {"datum": "water"}, "y": {"datum": 25.85}}},
    {"data": {"name": "one"}, "mark": {"type": "text", "fontSize": 18, "align": "left", "baseline": "alphabetic", "dx": -32.5, "text": "PNMT+c-Fos"}, "encoding": {"x": {"datum": "water"}, "y": {"datum": 23.4}}}
  ]
}
]
}
